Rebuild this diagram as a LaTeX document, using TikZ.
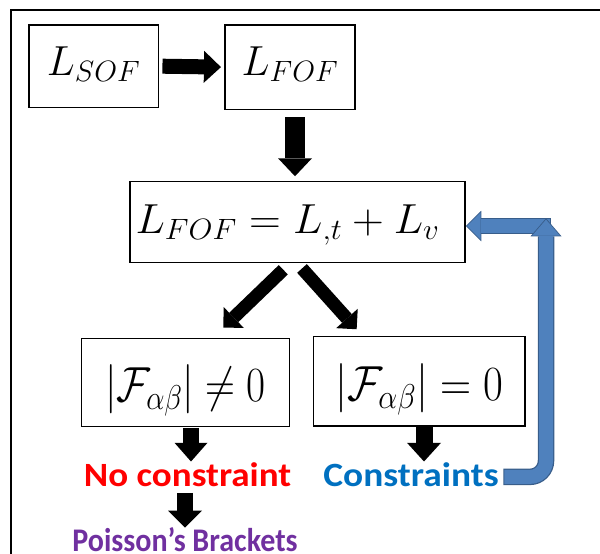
\RequirePackage{fix-cm}
\documentclass[tikz,border=0pt]{standalone}
\usepackage{fontspec}
\usepackage{graphicx}
\newfontfamily\cali{Carlito}
\usetikzlibrary{arrows.meta}
\definecolor{nored}{HTML}{FF0000}
\definecolor{conblue}{HTML}{0070C0}
\definecolor{poipurple}{HTML}{7030A0}
\definecolor{arrfill}{HTML}{4F81BD}
\definecolor{arredge}{HTML}{385D8A}
\tikzset{
  box/.style={draw, line width=1.5pt, inner sep=0pt},
  topmath/.style={font=\fontsize{42}{50}\selectfont},
  botmath/.style={font=\fontsize{41}{48}\selectfont},
  lbl/.style={inner sep=0pt, anchor=base, text height=25pt, text depth=6pt,
    font=\cali\bfseries\fontsize{34}{40}\selectfont},
  blk/.style={draw=black, line width=#1},
  blk/.default=16pt,
}
\begin{document}
\begin{tikzpicture}[x=1pt,y=-1pt]
\useasboundingbox (0,0) rectangle (600,554);
% frame
\draw[line width=2pt] (11,560) -- (11,10) -- (606,10);
% boxes
\node[box, topmath, minimum width=129.3pt, minimum height=82.3pt,
      text height=50pt, text depth=32.3pt] (sof) at (93.65,66.15) {$L_{SOF}$};
\node[box, topmath, minimum width=130pt, minimum height=84.3pt,
      text height=50pt, text depth=34.3pt] (fof) at (290,67.15) {$L_{FOF}$};
\node[box, topmath, minimum width=335pt, minimum height=80.8pt,
      text height=51.6pt, text depth=29.2pt] (main) at (297.5,222.1)
      {\scalebox{1.05}[1]{$L_{FOF}=L_{,t}+L_v$}\kern20pt};
\node[box, botmath, minimum width=207.6pt, minimum height=88.4pt,
      text height=63.4pt, text depth=25pt] (lbox) at (185.5,382.5)
      {\scalebox{1.01}[1.2]{$|\mathcal{F}_{\alpha\beta}|\neq 0$}};
\node[box, botmath, minimum width=211.7pt, minimum height=89.3pt,
      text height=64pt, text depth=25.3pt] (rbox) at (419.15,381.35)
      {\scalebox{1.05}[1.2]{$|\mathcal{F}_{\alpha\beta}|=0$}};
% labels
\node[lbl, text=nored] (nocon) at (187.5,486.7) {\scalebox{1.09}[1]{No constraint}};
\node[lbl, text=conblue, text height=24.3pt] (cons) at (411,486) {\scalebox{1.1}[1]{Constraints}};
\node[lbl, text=poipurple, text height=23.8pt, text depth=0pt,
      font=\cali\bfseries\fontsize{33}{38}\selectfont] (poi) at (185,551.5)
      {\scalebox{0.91}[1]{Poisson’s Brackets}};
% black block arrows
\draw[blk=15pt, shorten <=3.4pt, shorten >=3.3pt,
      -{Triangle[width=32pt,length=17pt,line width=0pt]}] (sof.east) -- (fof.west);
\draw[blk=20pt, shorten <=7.4pt, shorten >=4.7pt,
      -{Triangle[width=34pt,length=18pt,line width=0pt]}]
      ([xshift=5pt]fof.south) -- ([xshift=5pt]fof.south |- main.north);
\draw[blk=13pt, -{Triangle[width=29pt,length=14.5pt,line width=0pt]}]
      ([shift={(-14.2,6.5)}]main.south) -- ([shift={(37.8,-10)}]lbox.north);
\draw[blk=13pt, -{Triangle[width=29pt,length=14.5pt,line width=0pt]}]
      ([shift={(4.5,5.2)}]main.south) -- ([shift={(-62.5,-6.7)}]rbox.north);
\draw[blk=16pt, shorten <=0.3pt, -{Triangle[width=33pt,length=18.7pt,line width=0pt]}]
      ([xshift=5.5pt]lbox.south) -- ([xshift=5.5pt]lbox.south |- nocon.north);
\draw[blk=16pt, -{Triangle[width=34pt,length=17pt,line width=0pt]}]
      ([xshift=-2.5pt]nocon.south) -- ([xshift=-2.5pt]nocon.south |- poi.north);
\draw[blk=17pt, shorten <=0.7pt, -{Triangle[width=34pt,length=18.7pt,line width=0pt]}]
      ([xshift=4.85pt]rbox.south) -- ([xshift=4.85pt]rbox.south |- cons.north);
% blue arrows
\coordinate (turn) at (551,226);
\coordinate (uptip) at (546,218.3);
\draw[draw=arredge, line width=16pt, -{Triangle[width=30.5pt,length=15.5pt,line width=0pt,fill=arredge]}]
      (turn) -- (main.east |- turn);
\draw[draw=arrfill, line width=13.5pt, shorten >=1.3pt, shorten <=1pt,
      -{Triangle[width=27pt,length=13.5pt,line width=0pt,fill=arrfill]}]
      (turn) -- (main.east |- turn);
\draw[draw=arredge, line width=16.5pt, rounded corners=16pt, shorten <=4.5pt,
      -{Triangle[width=31pt,length=18pt,line width=0pt,fill=arredge]}]
      (cons.east) -| (uptip);
\draw[draw=arrfill, line width=14pt, rounded corners=16pt, shorten <=5.5pt, shorten >=1.3pt,
      -{Triangle[width=27.5pt,length=16pt,line width=0pt,fill=arrfill]}]
      (cons.east) -| (uptip);
\end{tikzpicture}
\end{document}
